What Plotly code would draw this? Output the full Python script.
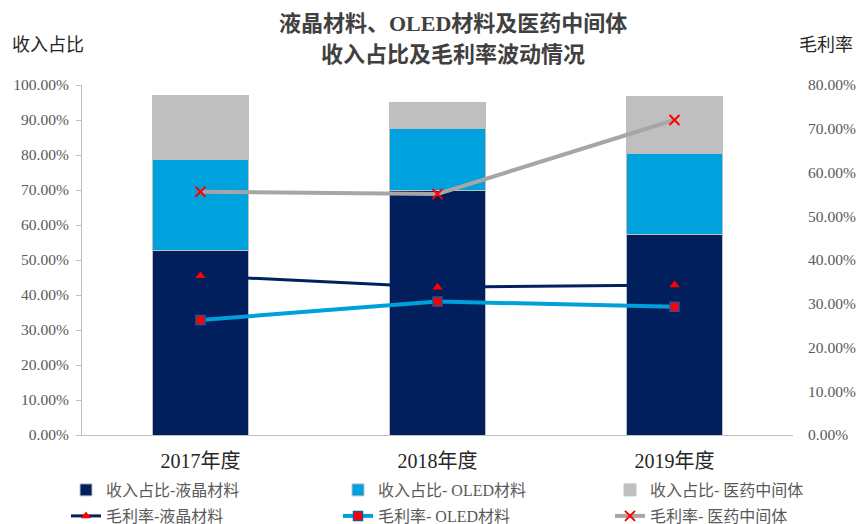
import plotly.graph_objects as go

years = ["2017年度", "2018年度", "2019年度"]
share_lcd = [0.527, 0.698, 0.574]
share_oled = [0.259, 0.178, 0.231]
share_pharma = [0.183, 0.073, 0.162]
margin_lcd = [0.364, 0.338, 0.343]
margin_oled = [0.263, 0.305, 0.293]
margin_pharma = [0.556, 0.551, 0.720]

SERIF = "Liberation Serif, Noto Sans CJK SC, serif"
GRAY_TXT = "#595959"

fig = go.Figure()
bar_line = dict(color="#BFBFBF", width=1)
fig.add_trace(go.Bar(x=years, y=share_lcd, name="收入占比-液晶材料",
                     marker=dict(color="#001F5C", line=bar_line), legend="legend"))
fig.add_trace(go.Bar(x=years, y=share_oled, name="收入占比- OLED材料",
                     marker=dict(color="#00A2DE", line=bar_line), legend="legend2"))
fig.add_trace(go.Bar(x=years, y=share_pharma, name="收入占比- 医药中间体",
                     marker=dict(color="#BFBFBF", line=bar_line), legend="legend3"))

fig.add_trace(go.Scatter(x=years, y=margin_lcd, name="毛利率-液晶材料", yaxis="y2",
                         mode="lines+markers", line=dict(color="#002060", width=3),
                         marker=dict(symbol="triangle-up", color="#FF0000", size=9,
                                     line=dict(width=0)), legend="legend4"))
fig.add_trace(go.Scatter(x=years, y=margin_oled, name="毛利率- OLED材料", yaxis="y2",
                         mode="lines+markers", line=dict(color="#00A0DC", width=4),
                         marker=dict(symbol="square", color="#FF0000", size=9,
                                     line=dict(color="#2F4F8F", width=1.5)), legend="legend5"))
fig.add_trace(go.Scatter(x=years, y=margin_pharma, name="毛利率- 医药中间体", yaxis="y2",
                         mode="lines+markers", line=dict(color="#A6A6A6", width=4),
                         marker=dict(symbol="x-thin", color="#FF0000", size=10,
                                     line=dict(color="#FF0000", width=2)), legend="legend6"))


def leg(xpx, ypx):
    return dict(orientation="h", xref="container", yref="container",
                x=xpx / 858, y=1 - ypx / 524, xanchor="left", yanchor="middle",
                font=dict(family=SERIF, size=16, color=GRAY_TXT),
                bgcolor="rgba(0,0,0,0)", borderwidth=0)


fig.update_layout(
    width=858, height=524,
    showlegend=True,
    margin=dict(l=82, r=65, t=85, b=89, autoexpand=False),
    paper_bgcolor="white", plot_bgcolor="white",
    barmode="stack", bargap=0.595,
    font=dict(family=SERIF, color=GRAY_TXT),
    xaxis=dict(type="category", showline=True, linecolor="#BFBFBF", linewidth=1,
               ticks="", showgrid=False, automargin=False, ticklabelstandoff=8,
               tickfont=dict(family=SERIF, size=20, color="#262626")),
    yaxis=dict(range=[0, 1], dtick=0.1, tickformat=".2%", showgrid=False, zeroline=False,
               showline=True, linecolor="#BFBFBF", linewidth=1, automargin=False,
               ticks="outside", ticklen=5, tickcolor="#BFBFBF", ticklabelstandoff=4,
               tickfont=dict(family=SERIF, size=15.5, color=GRAY_TXT)),
    yaxis2=dict(range=[0, 0.8], dtick=0.1, tickformat=".2%", overlaying="y", side="right",
                showgrid=False, zeroline=False, showline=False, ticks="", automargin=False,
                ticklabelstandoff=14,
                tickfont=dict(family=SERIF, size=15.5, color=GRAY_TXT)),
    legend=leg(66, 490),
    legend2=leg(338, 490),
    legend3=leg(610, 490),
    legend4=leg(66, 516),
    legend5=leg(338, 516),
    legend6=leg(610, 516),
    annotations=[
        dict(text="<b>液晶材料、OLED材料及医药中间体</b>", xref="paper", yref="paper",
             x=(453 - 82) / 711, y=(435 - 24) / 350, showarrow=False,
             font=dict(family=SERIF, size=22, color="#404040"), xanchor="center", yanchor="middle"),
        dict(text="<b>收入占比及毛利率波动情况</b>", xref="paper", yref="paper",
             x=(453 - 82) / 711, y=(435 - 54) / 350, showarrow=False,
             font=dict(family=SERIF, size=22, color="#404040"), xanchor="center", yanchor="middle"),
        dict(text="收入占比", xref="paper", yref="paper",
             x=(10 - 82) / 711, y=(435 - 45) / 350, showarrow=False,
             font=dict(family=SERIF, size=18, color="#262626"), xanchor="left", yanchor="middle"),
        dict(text="毛利率", xref="paper", yref="paper",
             x=(855 - 82) / 711, y=(435 - 45) / 350, showarrow=False,
             font=dict(family=SERIF, size=18, color="#262626"), xanchor="right", yanchor="middle"),
    ],
)

fig.write_html("out.html", config={"displayModeBar": False},
               post_script="document.body.style.margin='0px';")
